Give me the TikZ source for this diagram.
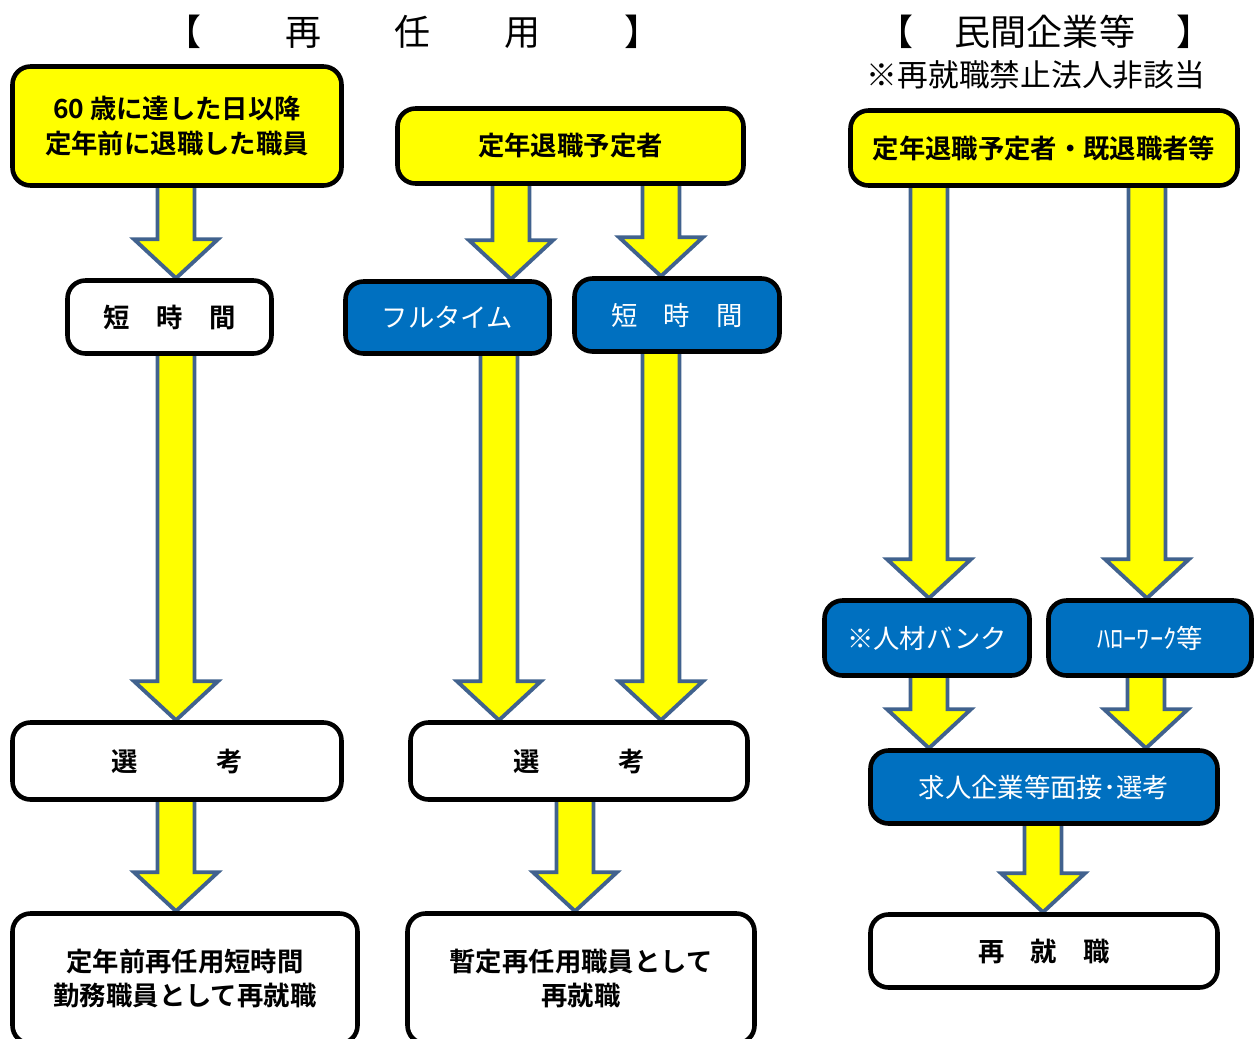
\documentclass[tikz,border=0pt]{standalone}
\usepackage{fontspec}
\setmainfont{Noto Sans CJK JP}[BoldFont={Noto Sans CJK JP Bold}]
\usetikzlibrary{positioning}
\usetikzlibrary{calc}
\usetikzlibrary{backgrounds}

\definecolor{boxyellow}{RGB}{255,255,0}
\definecolor{boxblue}{RGB}{0,112,192}
\definecolor{arrowedge}{RGB}{65,98,142}

%block arrow: #1 = x (cm), #2 = upper node, #3 = lower node
\newcommand{\blockarrow}[3]{%
	\draw[bigarrow] let \p1=(#2.south), \p2=(#3.north) in
	({#1cm-0.37cm},\y1+0.1cm) -- ({#1cm-0.37cm},\y2+0.78cm) -- ({#1cm-0.84cm},\y2+0.78cm)
	-- (#1cm,\y2) -- ({#1cm+0.84cm},\y2+0.78cm) -- ({#1cm+0.37cm},\y2+0.78cm)
	-- ({#1cm+0.37cm},\y1+0.1cm) -- cycle;}

\begin{document}
\begin{tikzpicture}[box/.style={draw=black,line width=2.6pt,rounded corners=0.36cm,
	        align=center,inner sep=0pt,font=\fontsize{15pt}{19.5pt}\selectfont\bfseries},
	yellowbox/.style={box,fill=boxyellow},
	whitebox/.style={box,fill=white},
	bluebox/.style={box,fill=boxblue,text=white,font=\fontsize{15pt}{19.5pt}\selectfont},
	bigarrow/.style={draw=arrowedge,fill=boxyellow,line width=2.2pt,line join=miter},
	headline/.style={font=\fontsize{20.5pt}{24pt}\selectfont},
	noteline/.style={font=\fontsize{17.5pt}{21pt}\selectfont}]

	\useasboundingbox (0,0) rectangle (25.08,-20.78);

	%headings
	\node[headline] (saininyo) at (8.26,-0.64) {【\hspace{2.32em}再\hspace{2.05em}任\hspace{2.05em}用\hspace{2.32em}】};
	\node[headline] (minkan) at (20.90,-0.64) {【\hspace{1.15em}民間企業等\hspace{1.15em}】};
	\node[noteline] (higaito) at (20.72,-1.50) {※再就職禁止法人非該当};

	%left column
	\node[yellowbox,minimum width=6.58cm,minimum height=2.38cm] (kijitsu) at (3.54,-2.52) {60 歳に達した日以降\\定年前に退職した職員};
	\node[whitebox,minimum width=4.08cm,minimum height=1.46cm] (tanjikanL) at (3.39,-6.34) {短　時　間};
	\node[whitebox,minimum width=6.58cm,minimum height=1.54cm] (senkoL) at (3.54,-15.22) {選　　　考};
	\node[whitebox,minimum width=6.90cm,minimum height=2.60cm] (teinenmae) at (3.70,-19.57) {定年前再任用短時間\\勤務職員として再就職};

	%middle column
	\node[yellowbox,minimum width=6.92cm,minimum height=1.50cm] (yoteisha) at (11.41,-2.92) {定年退職予定者};
	\node[bluebox,minimum width=4.08cm,minimum height=1.44cm] (fulltime) at (8.95,-6.35) {フルタイム};
	\node[bluebox,minimum width=4.10cm,minimum height=1.46cm] (tanjikanM) at (13.54,-6.30) {短　時　間};
	\node[whitebox,minimum width=6.74cm,minimum height=1.54cm] (senkoM) at (11.58,-15.22) {選　　　考};
	\node[whitebox,minimum width=6.94cm,minimum height=2.60cm] (zantei) at (11.62,-19.57) {暫定再任用職員として\\再就職};

	%right column
	\node[yellowbox,minimum width=7.74cm,minimum height=1.50cm] (kitaishoku) at (20.88,-2.96) {定年退職予定者・既退職者等};
	\node[bluebox,minimum width=4.10cm,minimum height=1.50cm] (jinzai) at (18.54,-12.76) {※人材バンク};
	\node[bluebox,minimum width=4.06cm,minimum height=1.50cm] (hellowork) at (23.00,-12.76) {ﾊﾛｰﾜｰｸ等};
	\node[bluebox,minimum width=6.94cm,minimum height=1.46cm] (mensetsu) at (20.88,-15.74) {求人企業等面接･選考};
	\node[whitebox,minimum width=6.94cm,minimum height=1.46cm] (saishushoku) at (20.88,-19.02) {再　就　職};

	%arrows behind the boxes
	\begin{pgfonlayer}{background}
	\blockarrow{3.52}{kijitsu}{tanjikanL}
	\blockarrow{3.52}{tanjikanL}{senkoL}
	\blockarrow{3.52}{senkoL}{teinenmae}

	\blockarrow{10.22}{yoteisha}{fulltime}
	\blockarrow{13.22}{yoteisha}{tanjikanM}
	\blockarrow{9.98}{fulltime}{senkoM}
	\blockarrow{13.22}{tanjikanM}{senkoM}
	\blockarrow{11.50}{senkoM}{zantei}

	\blockarrow{18.58}{kitaishoku}{jinzai}
	\blockarrow{22.94}{kitaishoku}{hellowork}
	\blockarrow{18.58}{jinzai}{mensetsu}
	\blockarrow{22.92}{hellowork}{mensetsu}
	\blockarrow{20.86}{mensetsu}{saishushoku}
	\end{pgfonlayer}

\end{tikzpicture}
\end{document}
